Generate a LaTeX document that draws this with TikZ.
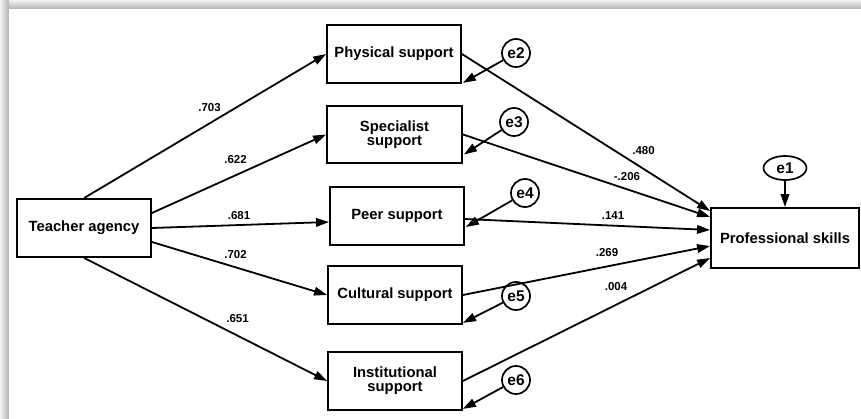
\documentclass[tikz,border=0pt]{standalone}
\usepackage{fontspec}
\setmainfont{Liberation Sans}
\usetikzlibrary{arrows.meta,calc,shapes.geometric}
\tikzset{
  varbox/.style={draw, line width=1.8pt, fill=white, minimum width=134pt, minimum height=58pt,
    inner sep=1pt, align=center, font=\fontsize{14.8}{14}\selectfont\bfseries},
  errc/.style={draw, circle, line width=1.7pt, fill=white, minimum size=28pt, inner sep=0pt,
    font=\fontsize{15.5}{15}\selectfont\bfseries},
  path/.style={line width=1.8pt, -{Triangle[length=13pt,width=8.5pt]}},
  coef/.style={font=\fontsize{11.5}{12}\selectfont\bfseries, inner sep=0pt}
}
\begin{document}
\begin{tikzpicture}[x=1pt,y=-1pt]
\useasboundingbox (0,0) rectangle (861,419);
% frame with shadow
\shade[top color=gray!10, bottom color=gray!60] (0,0) rectangle (861,9);
\shade[left color=gray!10, right color=gray!60] (0,0) rectangle (9,419);
\fill[white] (9,9) rectangle (861,419);

% variables
\node[varbox] (ta) at (84,228) {Teacher agency};
\node[varbox] (phys) at (394,54) {Physical support};
\node[varbox, minimum height=57pt, minimum width=135pt] (spec) at (394.5,134.5) {Specialist\\support};
\node[varbox] (peer) at (397,216) {Peer support};
\node[varbox] (cult) at (395,295) {Cultural support};
\node[varbox] (inst) at (395,381) {Institutional\\support};
\node[varbox, minimum width=148pt, minimum height=60pt] (ps) at (785,238) {Professional skills};

% error terms
\node[errc] (e2) at (516,53) {e2};
\node[errc] (e3) at (514,122) {e3};
\node[errc] (e4) at (525,193) {e4};
\node[errc] (e5) at (516,296) {e5};
\node[errc] (e6) at (516,380) {e6};
\node[draw, ellipse, line width=1.7pt, minimum width=43pt, minimum height=24pt, inner sep=0pt,
  font=\fontsize{15.5}{15}\selectfont\bfseries] (e1) at (785,168) {e1};

% paths from teacher agency
\draw[path] (ta.north) -- (phys.west);
\draw[path] ($(ta.east)+(0,-15)$) -- (spec.west);
\draw[path] (ta.east) -- ($(peer.west)+(0,6)$);
\draw[path] ($(ta.east)+(0,14)$) -- (cult.west);
\draw[path] (ta.south) -- (inst.west);

% paths to professional skills
\draw[path] (phys.east) -- ($(ps.west)+(0,-27)$);
\draw[path] (spec.east) -- ($(ps.west)+(0,-21)$);
\draw[path] ($(peer.east)+(0,3)$) -- ($(ps.west)+(0,-8)$);
\draw[path] (cult.east) -- ($(ps.west)+(0,8)$);
\draw[path] (inst.east) -- ($(ps.west)+(0,20)$);

% error arrows
\draw[path] (e2) -- ($(phys.south east)+(1,-1)$);
\draw[path] (e3) -- ($(spec.east)+(1,20)$);
\draw[path] (e4) -- ($(peer.east)+(1,11)$);
\draw[path] (e5) -- ($(cult.south east)+(0,-2)$);
\draw[path] (e6) -- ($(inst.south east)+(0,-2)$);
\draw[path] (e1) -- (ps.north);

% coefficients
\node[coef] (c1) at (209.5,108) {.703};
\node[coef] (c2) at (235.5,160) {.622};
\node[coef] (c3) at (239,216) {.681};
\node[coef] (c4) at (235.5,255) {.702};
\node[coef] (c5) at (237.5,319) {.651};
\node[coef] (c6) at (643.5,151) {.480};
\node[coef] (c7) at (627,177) {-.206};
\node[coef] (c8) at (613,216) {.141};
\node[coef] (c9) at (607,253) {.269};
\node[coef] (c10) at (616,287) {.004};
\end{tikzpicture}
\end{document}
